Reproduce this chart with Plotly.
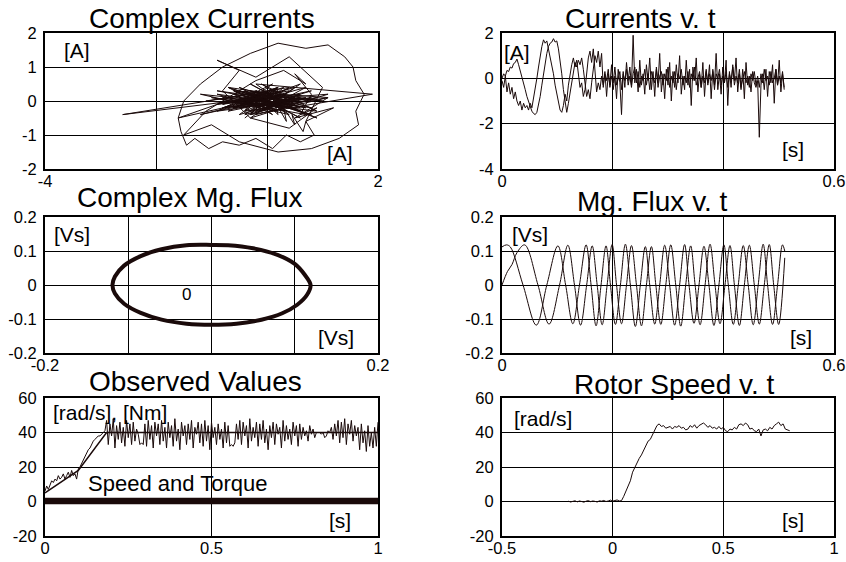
import numpy as np
import plotly.graph_objects as go

# ---------------- data ----------------
# Currents v. t (sampled every 3 ms from t = 0)
cur_dt = 0.003
i_a = [0.0, 0.2, 0.1, 0.35, 0.3, 0.5, 0.45, 0.65, 0.7, 0.85,
       0.6, 0.35, 0.1, -0.2, -0.5, -0.8, -1.05, -1.3, -1.45, -1.55,
       -1.6, -1.5, -1.2, -0.8, -0.3, 0.2, 0.7, 1.1, 1.4, 1.55,
       1.6, 1.75, 1.6, 1.65, 1.3, 0.8, 0.2, -0.5, -1.0, -1.5,
       -1.1, -0.6, -0.2, 0.3, 0.7, 0.5, 0.8, 0.6, 0.9, 0.4,
       -0.3, -0.8, -0.5, -0.9, -0.2, 0.4, 1.0, 0.7, 1.2, 0.5,
       1.1, -0.4, 0.3, -0.8, 0.2, -0.3, 0.6, -0.5, 0.1, -0.9,
       0.4, -0.2, -1.6, 0.3, -0.4, 0.7, -0.1, 0.5, -0.3, 1.9,
       -0.2, 0.4, -0.6, 0.8, -0.3, 0.2, -0.7, 0.6, -0.1, 0.9,
       -0.5, 0.3, -0.8, 0.5, -0.2, 1.1, -0.6, 0.2, -0.9, 0.4,
       -0.3, 0.7, -1.0, 0.3, -0.4, 0.6, -0.2, 1.0, -0.7, 0.1,
       -0.5, 0.8, -0.3, 0.4, -1.2, 0.5, -0.1, 0.9, -0.6, 0.2,
       -0.4, 0.7, -0.8, 0.3, -0.2, 0.6, -0.9, 0.4, -0.3, 1.1,
       -0.5, 0.2, -0.7, 0.5, -0.2, 0.8, -1.2, 0.3, -0.4, 0.6,
       -0.1, 0.9, -0.6, 0.2, -0.5, 0.4, -0.9, 0.7, -0.3, 0.1,
       -0.6, 0.3, -0.2, -0.4, -0.1, -2.6, -0.3, 0.2, -0.5, 0.4,
       -0.8, 0.3, -0.2, 0.6, -1.1, 0.4, -0.3, 0.8, -0.6, 0.2,
       -0.4]
i_b = [-0.1, -0.4, 0.1, -0.6, -0.2, -0.7, -0.4, -0.9, -0.6, -1.0,
       -1.2, -1.0, -1.4, -1.1, -1.3, -1.2, -1.4, -1.1, -1.3, -0.9,
       -0.5, 0.0, 0.5, 1.0, 1.4, 1.7, 1.55, 1.65, 1.3, 1.0,
       0.6, 0.2, -0.3, -0.7, -1.1, -1.4, -1.5, -1.2, -0.7, -1.0,
       -0.3, 0.2, 0.6, 0.9, 0.5, 0.8, 0.2, -0.4, -0.2, -0.8,
       -0.5, 0.3, 0.9, 1.2, 0.7, 1.3, 0.4, -0.6, -0.2, -0.5,
       0.1, -0.3, 0.2, -0.1, 0.4, -0.4, 0.1, -0.2, 0.5, -0.3,
       0.0, 0.3, -0.5, 0.2, -0.1, 0.4, -0.3, 0.1, -0.4, 0.2,
       0.5, -0.2, 0.3, -0.4, 0.1, -0.1, 0.4, -0.3, 0.2, -0.5,
       0.3, 0.0, -0.2, 0.4, -0.4, 0.1, 0.3, -0.3, 0.2, -0.1,
       0.5, -0.4, 0.1, -0.2, 0.3, -0.5, 0.2, 0.0, 0.4, -0.3,
       0.1, -0.2, 0.3, -0.4, 0.2, -0.1, 0.5, -0.3, 0.0, 0.3,
       -0.4, 0.1, -0.2, 0.4, -0.3, 0.2, -0.1, 0.3, -0.5, 0.2,
       0.0, 0.4, -0.3, 0.1, -0.2, 0.3, -0.4, 0.2, -0.1, 0.5,
       -0.3, 0.1, -0.2, 0.4, -0.4, 0.0, 0.3, -0.2, 0.1, -0.4,
       0.2, -0.1, 0.3, -0.3, 0.1, -0.4, 0.2, -0.2, 0.4, -0.1,
       0.1, -0.3, 0.3, -0.2, 0.0, 0.4, -0.3, 0.1, -0.2, 0.3,
       -0.5]

# Complex magnetic flux (alpha, beta) around one revolution
psi_alpha = [0.119, 0.112, 0.100, 0.080, 0.050, 0.020, 0.000, -0.030, -0.060, -0.085,
             -0.105, -0.116, -0.119, -0.116, -0.105, -0.085, -0.060, -0.030, 0.000, 0.030,
             0.060, 0.085, 0.103, 0.115, 0.119]
psi_beta = [0.000, 0.030, 0.062, 0.088, 0.108, 0.117, 0.118, 0.117, 0.105, 0.085,
            0.057, 0.025, 0.000, -0.025, -0.055, -0.082, -0.102, -0.114, -0.117, -0.114,
            -0.102, -0.083, -0.058, -0.028, 0.000]

# Mg. Flux v. t : extremes and zero crossings
flux_a_t = [0.000, 0.010, 0.018, 0.027, 0.041, 0.065, 0.085, 0.104, 0.119, 0.131,
            0.142, 0.153, 0.163, 0.172, 0.181, 0.190, 0.199, 0.207, 0.216, 0.225,
            0.234, 0.243, 0.252, 0.261, 0.270, 0.278, 0.287, 0.296, 0.305, 0.314,
            0.323, 0.332, 0.341, 0.349, 0.358, 0.367, 0.376, 0.385, 0.394, 0.403,
            0.412, 0.420, 0.429, 0.438, 0.447, 0.456, 0.465, 0.474, 0.483, 0.491,
            0.500, 0.511]
flux_a_v = [0.000, 0.040, 0.060, 0.095, 0.118, 0.000, -0.115, 0.000, 0.117, 0.000,
            -0.118, 0.000, 0.115, 0.000, -0.117, 0.000, 0.119, 0.000, -0.114, 0.000,
            0.116, 0.000, -0.120, 0.000, 0.113, 0.000, -0.116, 0.000, 0.118, 0.000,
            -0.121, 0.000, 0.115, 0.000, -0.117, 0.000, 0.120, 0.000, -0.114, 0.000,
            0.116, 0.000, -0.119, 0.000, 0.117, 0.000, -0.115, 0.000, 0.119, 0.000,
            -0.116, 0.080]
flux_b_t = [0.000, 0.008, 0.015, 0.038, 0.062, 0.081, 0.101, 0.115, 0.128, 0.140,
            0.152, 0.161, 0.170, 0.179, 0.188, 0.196, 0.205, 0.214, 0.223, 0.232,
            0.241, 0.250, 0.259, 0.267, 0.276, 0.285, 0.294, 0.303, 0.312, 0.321,
            0.330, 0.338, 0.347, 0.356, 0.365, 0.374, 0.383, 0.392, 0.401, 0.409,
            0.418, 0.427, 0.436, 0.445, 0.454, 0.463, 0.472, 0.480, 0.489, 0.498,
            0.507, 0.511]
flux_b_v = [0.112, 0.118, 0.112, 0.000, -0.118, 0.000, 0.115, 0.000, -0.114, 0.000,
            0.118, 0.000, -0.120, 0.000, 0.115, 0.000, -0.116, 0.000, 0.120, 0.000,
            -0.122, 0.000, 0.113, 0.000, -0.115, 0.000, 0.117, 0.000, -0.118, 0.000,
            0.119, 0.000, -0.113, 0.000, 0.114, 0.000, -0.119, 0.000, 0.118, 0.000,
            -0.116, 0.000, 0.116, 0.000, -0.117, 0.000, 0.120, 0.000, -0.116, 0.000,
            0.118, 0.100]

# Observed values (sampled every 5 ms from t = 0)
obs_dt = 0.005
speed_obs = [6, 9, 7, 10, 12, 11, 13, 12, 15, 13,
             14, 16, 13, 15, 17, 14, 18, 15, 16, 13,
             19, 20, 22, 24, 26, 28, 30, 31, 33, 35,
             36, 37, 38, 38, 39, 40, 41,
             47, 33, 45, 38, 48, 31, 44, 36, 46, 34,
             43, 32, 47, 37, 45, 33, 46, 35, 42, 39,
             33, 34, 33, 45, 32, 47, 36, 44, 31, 46,
             38, 45, 33, 47, 35, 43, 31, 46, 37, 44,
             32, 48, 35, 42, 30, 46, 38, 44, 33, 45,
             36, 47, 31, 43, 39, 46, 34, 45, 32, 47,
             35, 44, 30, 46, 37, 43, 33, 45, 36, 42,
             31, 46, 34, 44, 32, 33, 32, 34, 45, 36,
             47, 33, 46, 38, 44, 31, 48, 35, 43, 37,
             46, 32, 45, 36, 47, 34, 42, 30, 44, 37,
             46, 33, 45, 39, 43, 31, 47, 35, 44, 36,
             42, 33, 46, 38, 44, 32, 45, 36, 43, 38,
             41, 35, 44, 39, 42, 37, 40, 40, 40, 39,
             40, 37, 38, 41, 40, 43, 36, 45, 38, 47,
             34, 46, 37, 48, 33, 45, 39, 47, 35, 44,
             38, 43, 30, 45, 34, 41, 29, 44, 32, 40,
             31, 43, 32, 46]
speed_ref_t = [0.0, 0.10, 0.185, 1.0]
speed_ref_v = [5, 18, 40, 40]
torque_t = [0.0, 0.25, 0.5, 0.75, 1.0]
torque_v = [0.3, 0.3, 0.3, 0.3, 0.3]

# Rotor speed v. t (sampled every 10 ms from t = -0.2)
rotor_t0 = -0.2
rotor_dt = 0.01
rotor_speed = [0.2, -0.3, 0.1, 0.4, -0.2, 0.3, 0.0, -0.4, 0.2, 0.5,
               -0.1, 0.3, 0.1, -0.3, 0.4, 0.2, 0.6, 0.0, 0.3, 0.8,
               0.2, 0.5, 0.9, 0.3, 0.5, 3, 6, 9, 12, 17,
               20, 22, 25, 27, 30, 32, 35, 36, 39, 42,
               44, 45, 43.5, 44, 42.5, 43, 43.5, 42, 43.5, 43,
               44, 42.5, 43, 41.5, 42, 44, 43, 44.5, 42.5, 44,
               45, 45.5, 44.5, 43, 44, 42.5, 43, 42, 43.5, 42,
               43, 41, 40.5, 42, 41.5, 43, 42, 44.5, 45, 44,
               45.5, 44.5, 42, 42.5, 41, 40.5, 42, 38, 41.5, 42,
               41, 43, 42, 44, 45, 46, 44, 45, 42, 41.5,
               41]

# ---------------- figure ----------------
W, H = 846, 562
LINE = '#1a0a0a'
FONT = 'Liberation Sans, Arial, sans-serif'

cur_t = np.round(np.arange(len(i_a)) * cur_dt, 4)
obs_t = np.round(np.arange(len(speed_obs)) * obs_dt, 4)
rot_t = np.round(rotor_t0 + np.arange(len(rotor_speed)) * rotor_dt, 4)

fig = go.Figure()

def add(x, y, ax, width=1, shape='linear'):
    fig.add_trace(go.Scatter(x=x, y=y, mode='lines', xaxis='x' + ax, yaxis='y' + ax,
                             line=dict(color=LINE, width=width, shape=shape),
                             showlegend=False, hoverinfo='skip'))

add(i_a, i_b, '')
add(cur_t, i_a, '2')
add(cur_t, i_b, '2')
add(psi_alpha, psi_beta, '3', width=4, shape='spline')
add(flux_a_t, flux_a_v, '4', shape='spline')
add(flux_b_t, flux_b_v, '4', shape='spline')
add(speed_ref_t, speed_ref_v, '5', width=1.5)
add(obs_t, speed_obs, '5')
add(torque_t, torque_v, '5', width=6.5)
add(rot_t, rotor_speed, '6')

def px_x(a, b):
    return [a / W, b / W]

def px_y(top, bottom):
    return [1 - bottom / H, 1 - top / H]

colL = px_x(45, 378)
colR = px_x(502, 834)
row1 = px_y(33, 169)
row2 = px_y(217, 353)
row3 = px_y(398, 536)

base = dict(showline=True, linecolor='black', linewidth=2, mirror=True,
            showgrid=True, gridcolor='black', gridwidth=1, zeroline=False,
            ticks='', fixedrange=True, automargin=False,
            tickfont=dict(family=FONT, size=16.5, color='black'))

def xa(dom, anchor, rng, vals, text):
    d = dict(base); d.update(domain=dom, anchor=anchor, range=rng, tickmode='array',
                             tickvals=vals, ticktext=text, ticklabelstandoff=-4)
    return d

def ya(dom, anchor, rng, vals, text):
    d = dict(base); d.update(domain=dom, anchor=anchor, range=rng, tickmode='array',
                             tickvals=vals, ticktext=text, ticklabelstandoff=3)
    return d

layout = dict(
    width=W, height=H, margin=dict(l=0, r=0, t=0, b=0, autoexpand=False),
    paper_bgcolor='white', plot_bgcolor='white',
    font=dict(family=FONT, color='black'),
    xaxis=xa(colL, 'y', [-4, 2], [-4, -2, 0, 2], ['-4', '', '', '2']),
    yaxis=ya(row1, 'x', [-2, 2], [-2, -1, 0, 1, 2], ['-2', '-1', '0', '1', '2']),
    xaxis2=xa(colR, 'y2', [0, 0.6], [0, 0.2, 0.4, 0.6], ['0', '', '', '0.6']),
    yaxis2=ya(row1, 'x2', [-4, 2], [-4, -2, 0, 2], ['-4', '-2', '0', '2']),
    xaxis3=xa(colL, 'y3', [-0.2, 0.2], [-0.2, -0.1, 0, 0.1, 0.2], ['-0.2', '', '', '', '0.2']),
    yaxis3=ya(row2, 'x3', [-0.2, 0.2], [-0.2, -0.1, 0, 0.1, 0.2], ['-0.2', '-0.1', '0', '0.1', '0.2']),
    xaxis4=xa(colR, 'y4', [0, 0.6], [0, 0.2, 0.4, 0.6], ['0', '', '', '0.6']),
    yaxis4=ya(row2, 'x4', [-0.2, 0.2], [-0.2, -0.1, 0, 0.1, 0.2], ['-0.2', '-0.1', '0', '0.1', '0.2']),
    xaxis5=xa(colL, 'y5', [0, 1], [0, 0.5, 1], ['0', '0.5', '1']),
    yaxis5=ya(row3, 'x5', [-20, 60], [-20, 0, 20, 40, 60], ['-20', '0', '20', '40', '60']),
    xaxis6=xa(colR, 'y6', [-0.5, 1], [-0.5, 0, 0.5, 1], ['-0.5', '0', '0.5', '1']),
    yaxis6=ya(row3, 'x6', [-20, 60], [-20, 0, 20, 40, 60], ['-20', '0', '20', '40', '60']),
)
fig.update_layout(**layout)

def note(text, x, y, size):
    fig.add_annotation(text=text, x=x / W, y=1 - y / H, xref='paper', yref='paper',
                       xanchor='center', yanchor='middle', showarrow=False,
                       font=dict(family=FONT, size=size, color='black'))

# titles
note('Complex Currents', 202, 18, 28)
note('Currents v. t', 640, 18, 28)
note('Complex Mg. Flux', 190, 197, 28)
note('Mg. Flux v. t', 652, 201, 28)
note('Observed Values', 195, 381, 28)
note('Rotor Speed v. t', 674, 384, 28)

# inner labels
note('[A]', 77, 51, 21)
note('[A]', 340, 153, 21)
note('[A]', 517, 52, 21)
note('[s]', 793, 150, 21)
note('[Vs]', 72, 234, 21)
note('[Vs]', 336, 337, 21)
note('0', 186, 294, 17)
note('[Vs]', 530, 235, 21)
note('[s]', 801, 337, 21)
note('[rad/s], [Nm]', 110, 412, 21)
note('Speed and Torque', 177, 483, 22)
note('[s]', 340, 520, 21)
note('[rad/s]', 543, 418, 21)
note('[s]', 793, 520, 21)

fig.write_html('out.html')
